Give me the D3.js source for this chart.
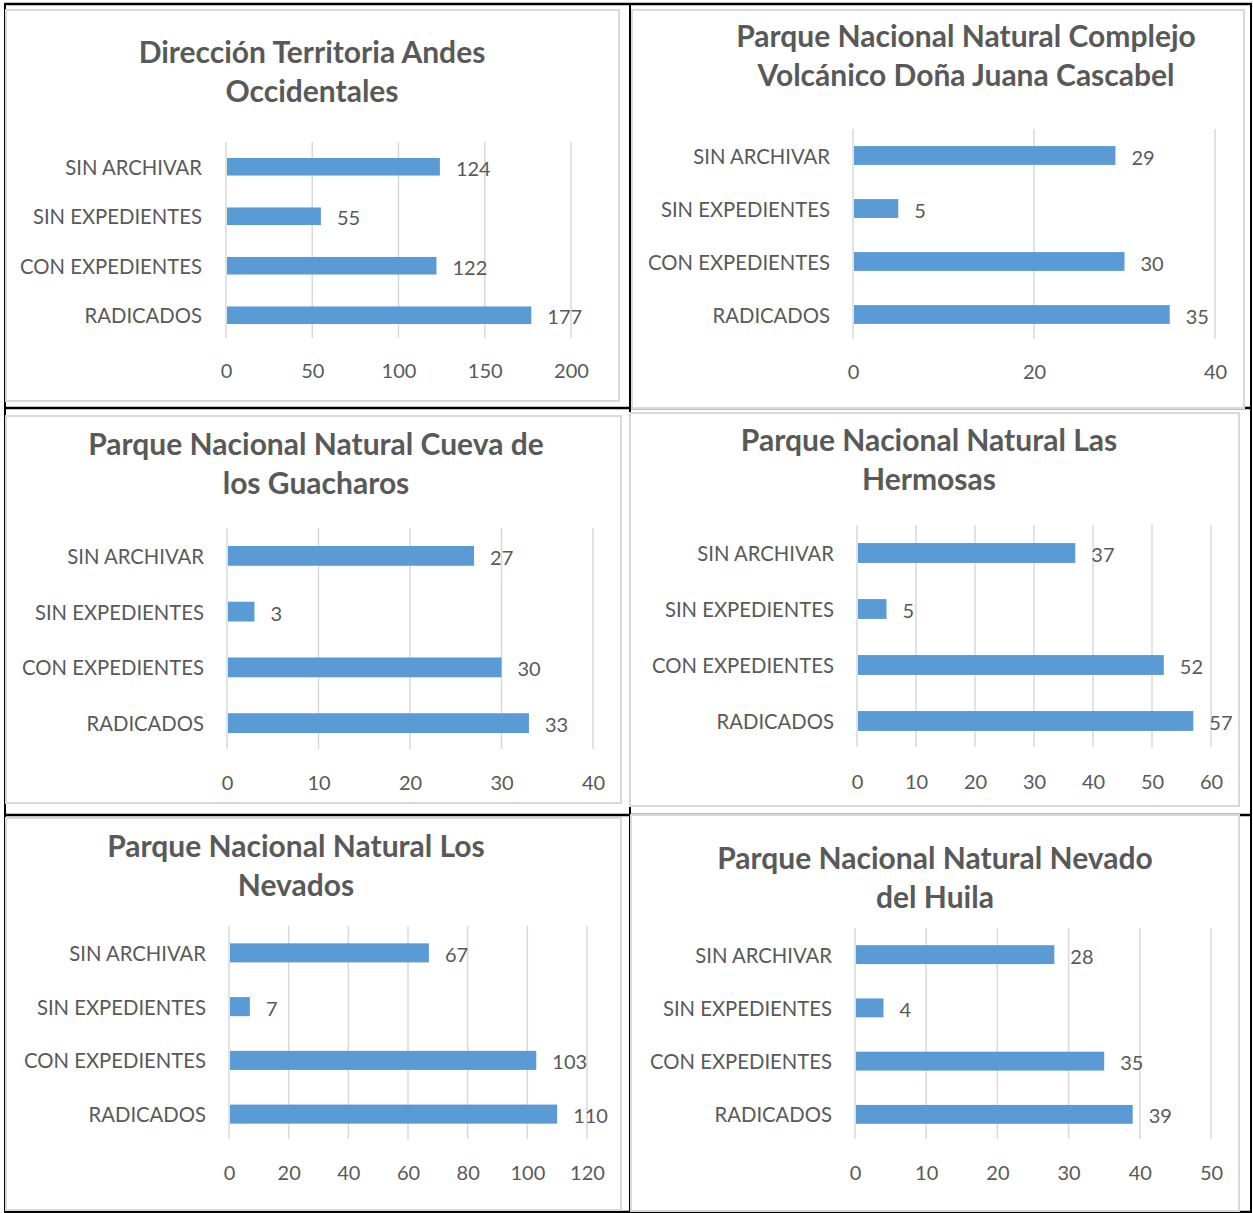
<!DOCTYPE html>
<html>
<head>
<meta charset="utf-8">
<script src="https://cdn.jsdelivr.net/npm/d3@7"></script>
<style>
  body { margin: 0; background: #fff; }
  text { font-family: Lato, 'Noto Sans', sans-serif; fill: #595959; }
</style>
</head>
<body>
<svg id="page" width="1253" height="1213"></svg>
<script>
// data
var categories = ['SIN ARCHIVAR', 'SIN EXPEDIENTES', 'CON EXPEDIENTES', 'RADICADOS'];

var titles = [
  ['Dirección Territoria Andes', 'Occidentales'],
  ['Parque Nacional Natural Complejo', 'Volcánico Doña Juana Cascabel'],
  ['Parque Nacional Natural Cueva de', 'los Guacharos'],
  ['Parque Nacional Natural Las', 'Hermosas'],
  ['Parque Nacional Natural Los', 'Nevados'],
  ['Parque Nacional Natural Nevado', 'del Huila']
];

var andesOccidentales = [124, 55, 122, 177];
var donaJuana = [29, 5, 30, 35];
var guacharos = [27, 3, 30, 33];
var lasHermosas = [37, 5, 52, 57];
var losNevados = [67, 7, 103, 110];
var nevadoHuila = [28, 4, 35, 39];
var values = [andesOccidentales, donaJuana, guacharos, lasHermosas, losNevados, nevadoHuila];

var ticks = [
  [0, 50, 100, 150, 200],
  [0, 20, 40],
  [0, 10, 20, 30, 40],
  [0, 10, 20, 30, 40, 50, 60],
  [0, 20, 40, 60, 80, 100, 120],
  [0, 10, 20, 30, 40, 50]
];

// layout of each chart image on the page
var LAYOUT = [
  {box: [6, 10, 619, 401],   x0: 226, x1: 571,  top: 142, bottom: 340,  tx: 312, ty: [51, 90],   tickY: 370,  labelX: 202},
  {box: [632, 10, 1244, 408], x0: 853, x1: 1215, top: 129, bottom: 341,  tx: 966, ty: [35, 74],   tickY: 371,  labelX: 830},
  {box: [6, 416, 621, 803],  x0: 227, x1: 593,  top: 528, bottom: 751,  tx: 316, ty: [443, 482], tickY: 782,  labelX: 204},
  {box: [630, 413, 1239, 806], x0: 857, x1: 1211, top: 525, bottom: 749, tx: 929, ty: [439, 478], tickY: 781,  labelX: 834},
  {box: [6, 818, 621, 1210], x0: 229, x1: 587,  top: 926, bottom: 1141, tx: 296, ty: [845, 884], tickY: 1172, labelX: 206},
  {box: [631, 815, 1239, 1211], x0: 855, x1: 1211, top: 928, bottom: 1141, tx: 935, ty: [857, 896], tickY: 1172, labelX: 832}
];

var BAR = '#5b9bd5';
var GRID = '#d9d9d9';

var svg = d3.select('#page');

// table borders behind the chart images
var tableH = [4, 408, 815, 1212];
var tableV = [5, 630, 1251];
svg.selectAll('line.th').data(tableH).enter().append('line')
  .attr('x1', 4).attr('x2', 1252).attr('y1', function(d) { return d; }).attr('y2', function(d) { return d; })
  .attr('stroke', '#000').attr('stroke-width', 2.5);
svg.selectAll('line.tv').data(tableV).enter().append('line')
  .attr('y1', 3).attr('y2', 1213).attr('x1', function(d) { return d; }).attr('x2', function(d) { return d; })
  .attr('stroke', '#000').attr('stroke-width', 2);

for (var i = 0; i < values.length; i++) {
  drawChart(LAYOUT[i], titles[i], values[i], ticks[i]);
}

function drawChart(L, title, vals, tks) {
  var g = svg.append('g');

  g.append('rect')
    .attr('x', L.box[0]).attr('y', L.box[1])
    .attr('width', L.box[2] - L.box[0]).attr('height', L.box[3] - L.box[1])
    .attr('fill', '#fff').attr('stroke', GRID).attr('stroke-width', 2);

  g.selectAll('text.title').data(title).enter().append('text')
    .attr('x', L.tx)
    .attr('y', function(d, j) { return L.ty[j]; })
    .attr('text-anchor', 'middle')
    .attr('dominant-baseline', 'central')
    .attr('font-size', 30)
    .attr('font-weight', 'bold')
    .text(function(d) { return d; });

  var x = d3.scaleLinear().domain([0, tks[tks.length - 1]]).range([L.x0, L.x1]);
  var y = d3.scaleBand().domain(categories).range([L.top, L.bottom])
    .paddingInner(0.645).paddingOuter(0.3225);

  g.selectAll('line.grid').data(tks).enter().append('line')
    .attr('x1', function(d) { return x(d); }).attr('x2', function(d) { return x(d); })
    .attr('y1', L.top).attr('y2', L.bottom - 2)
    .attr('stroke', GRID).attr('stroke-width', 1.5);

  var axis = d3.axisBottom(x).tickValues(tks).tickSize(0).tickPadding(0);
  var ax = g.append('g').attr('transform', 'translate(0,' + L.tickY + ')').call(axis);
  ax.select('.domain').remove();
  ax.selectAll('text')
    .attr('dy', null).attr('y', 0)
    .attr('dominant-baseline', 'central')
    .attr('font-size', 20)
    .attr('font-family', 'Lato')
    .attr('fill', '#595959');

  g.selectAll('text.cat').data(categories).enter().append('text')
    .attr('x', L.labelX)
    .attr('y', function(d) { return y(d) + y.bandwidth() / 2; })
    .attr('text-anchor', 'end')
    .attr('dominant-baseline', 'central')
    .attr('font-size', 20.3)
    .text(function(d) { return d; });

  g.selectAll('rect.bar').data(vals).enter().append('rect')
    .attr('x', x(0) + 1)
    .attr('y', function(d, j) { return y(categories[j]); })
    .attr('width', function(d) { return x(d) - x(0) - 1; })
    .attr('height', y.bandwidth())
    .attr('fill', BAR);

  g.selectAll('text.val').data(vals).enter().append('text')
    .attr('x', function(d) { return x(d) + 16; })
    .attr('y', function(d, j) { return y(categories[j]) + y.bandwidth() / 2 + 1; })
    .attr('dominant-baseline', 'central')
    .attr('font-size', 20)
    .text(function(d) { return d; });
}
</script>
</body>
</html>
